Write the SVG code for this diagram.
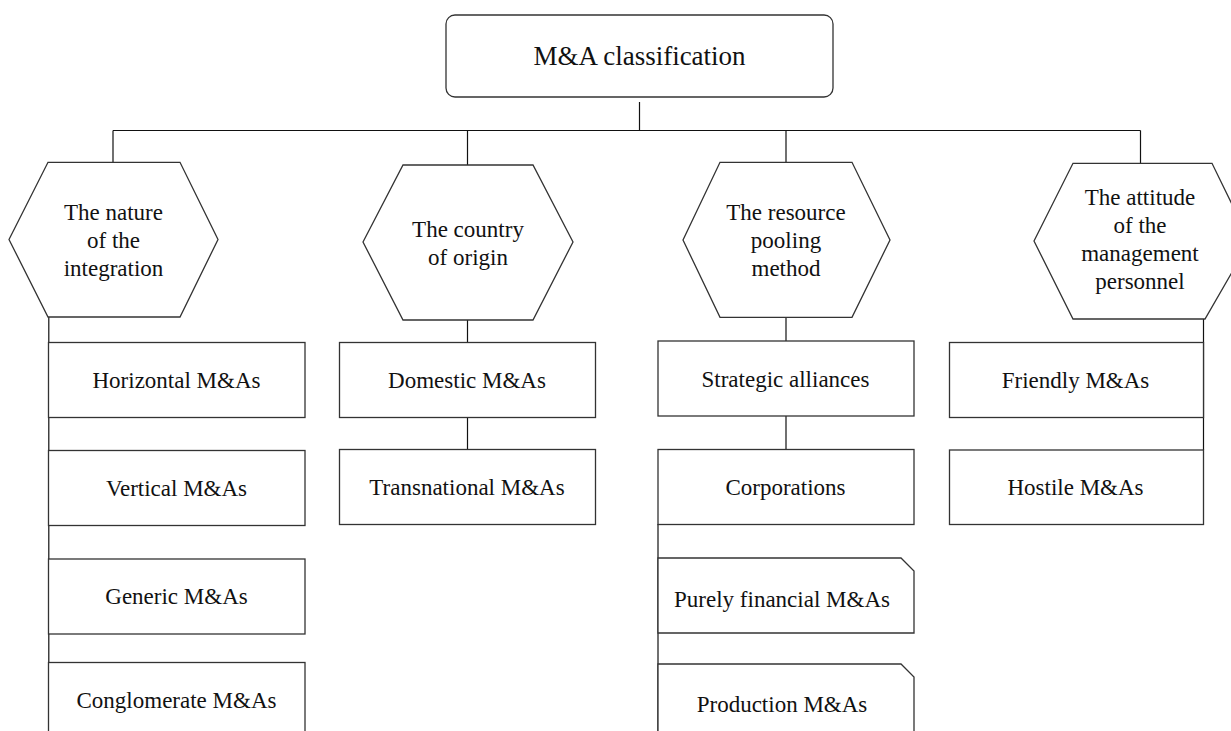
<svg xmlns="http://www.w3.org/2000/svg" width="1231" height="731" viewBox="0 0 1231 731">
<style>
.shape{fill:#fff;stroke:#333;stroke-width:1.3}
.conn line{stroke:#111;stroke-width:1.2;fill:none}
text{font-family:'Liberation Serif','Times New Roman',serif;font-size:23px;fill:#111;text-anchor:middle}
.root text{font-size:27px}
</style>
<rect width="1231" height="731" fill="#fff"/>
<g class="conn" id="connectors">
<line x1="639.5" y1="102" x2="639.5" y2="130.5"/>
<line x1="113" y1="130.5" x2="1140.5" y2="130.5"/>
<line x1="113" y1="130.5" x2="113" y2="162"/>
<line x1="467.5" y1="130.5" x2="467.5" y2="165"/>
<line x1="786" y1="130.5" x2="786" y2="162"/>
<line x1="1140.5" y1="130.5" x2="1140.5" y2="163"/>
<line x1="48.8" y1="317" x2="48.8" y2="731"/>
<line x1="467.5" y1="320" x2="467.5" y2="342"/>
<line x1="467.5" y1="417" x2="467.5" y2="449"/>
<line x1="786" y1="317" x2="786" y2="341"/>
<line x1="786" y1="416" x2="786" y2="449"/>
<line x1="658" y1="524" x2="658" y2="731"/>
<line x1="1203.5" y1="319" x2="1203.5" y2="450"/>
</g>
<g id="root" class="root">
<rect class="shape" x="446" y="15" width="387" height="82" rx="9"/>
<text x="639.5" y="65">M&amp;A classification</text>
</g>
<g id="hex-nature">
<polygon class="shape" points="9,239.5 48,162.3 180,162.3 218,239.5 180,317 48,317"/>
<text x="113.5" y="220">The nature</text>
<text x="113.5" y="248">of the</text>
<text x="113.5" y="276">integration</text>
</g>
<g id="hex-country">
<polygon class="shape" points="363,242 403,165 533,165 573,242 533,320 403,320"/>
<text x="468" y="237">The country</text>
<text x="468" y="265">of origin</text>
</g>
<g id="hex-resource">
<polygon class="shape" points="683,240 720,162.3 852,162.3 890,240 852,317.3 720,317.3"/>
<text x="786" y="220">The resource</text>
<text x="786" y="248">pooling</text>
<text x="786" y="276">method</text>
</g>
<g id="hex-attitude">
<polygon class="shape" points="1034,241 1073,163.3 1212,163.3 1250,241 1205,319 1073,319"/>
<text x="1140" y="205">The attitude</text>
<text x="1140" y="233">of the</text>
<text x="1140" y="261">management</text>
<text x="1140" y="289">personnel</text>
</g>
<g id="horizontal">
<rect class="shape" x="48.5" y="342.5" width="256.5" height="75"/>
<text x="176.5" y="388">Horizontal M&amp;As</text>
</g>
<g id="vertical">
<rect class="shape" x="48.5" y="450.5" width="256.5" height="75"/>
<text x="176.5" y="496">Vertical M&amp;As</text>
</g>
<g id="generic">
<rect class="shape" x="48.5" y="559" width="256.5" height="75"/>
<text x="176.5" y="604">Generic M&amp;As</text>
</g>
<g id="conglomerate">
<rect class="shape" x="48.5" y="662.5" width="256.5" height="80"/>
<text x="176.5" y="708">Conglomerate M&amp;As</text>
</g>
<g id="domestic">
<rect class="shape" x="339.5" y="342.5" width="256" height="75"/>
<text x="467" y="388">Domestic M&amp;As</text>
</g>
<g id="transnational">
<rect class="shape" x="339.5" y="449.5" width="256" height="75"/>
<text x="467" y="494.5">Transnational M&amp;As</text>
</g>
<g id="strategic">
<rect class="shape" x="658" y="341" width="256" height="75"/>
<text x="785.5" y="386.5">Strategic alliances</text>
</g>
<g id="corporations">
<rect class="shape" x="658" y="449.5" width="256" height="75"/>
<text x="785.5" y="494.5">Corporations</text>
</g>
<g id="financial">
<polygon class="shape" points="658,558 901,558 914,571 914,633 658,633"/>
<text x="782" y="607">Purely financial M&amp;As</text>
</g>
<g id="production">
<polygon class="shape" points="658,664 901,664 914,677 914,745 658,745"/>
<text x="782" y="712">Production M&amp;As</text>
</g>
<g id="friendly">
<rect class="shape" x="949.5" y="342.5" width="254" height="75"/>
<text x="1075.5" y="388">Friendly M&amp;As</text>
</g>
<g id="hostile">
<rect class="shape" x="949.5" y="450" width="254" height="74.5"/>
<text x="1075.5" y="495">Hostile M&amp;As</text>
</g>
</svg>
